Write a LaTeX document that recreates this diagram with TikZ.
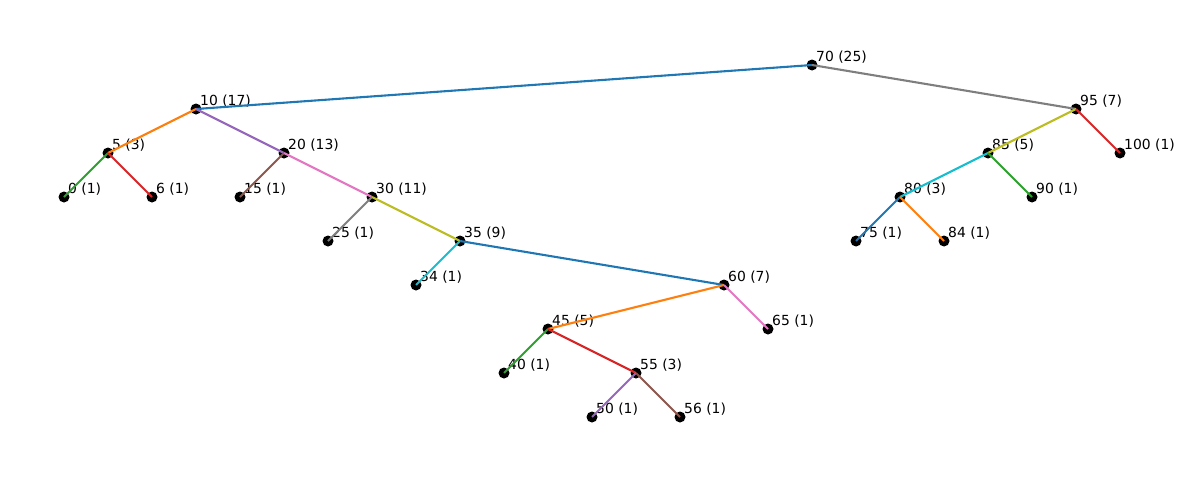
\documentclass[tikz,border=0pt]{standalone}
\usepackage{fontspec}
\setmainfont{DejaVu Sans}
\definecolor{C0}{HTML}{1F77B4}
\definecolor{C1}{HTML}{FF7F0E}
\definecolor{C2}{HTML}{2CA02C}
\definecolor{C3}{HTML}{D62728}
\definecolor{C4}{HTML}{9467BD}
\definecolor{C5}{HTML}{8C564B}
\definecolor{C6}{HTML}{E377C2}
\definecolor{C7}{HTML}{7F7F7F}
\definecolor{C8}{HTML}{BCBD22}
\definecolor{C9}{HTML}{17BECF}
\begin{document}
\begin{tikzpicture}[x=1pt,y=-1pt,
  dot/.style={circle,fill=black,minimum size=11pt,inner sep=0pt},
  lbl/.style={anchor=base west,inner sep=0pt,font=\fontsize{13.9}{16}\selectfont},
  edge/.style={line width=2.1pt}]
\path[use as bounding box] (0,0) rectangle (1184,482);
\foreach \n/\x/\y/\t in {
  70/812/65/{70 (25)}, 10/196/109/{10 (17)}, 95/1076/109/{95 (7)},
  5/108/153/{5 (3)}, 20/284/153/{20 (13)}, 85/988/153/{85 (5)}, 100/1120/153/{100 (1)},
  0/64/197/{0 (1)}, 6/152/197/{6 (1)}, 15/240/197/{15 (1)}, 30/372/197/{30 (11)},
  80/900/197/{80 (3)}, 90/1032/197/{90 (1)},
  25/328/241/{25 (1)}, 35/460/241/{35 (9)}, 75/856/241/{75 (1)}, 84/944/241/{84 (1)},
  34/416/285/{34 (1)}, 60/724/285/{60 (7)},
  45/548/329/{45 (5)}, 65/768/329/{65 (1)},
  40/504/373/{40 (1)}, 55/636/373/{55 (3)},
  50/592/417/{50 (1)}, 56/680/417/{56 (1)}}{
  \node[dot] (n\n) at (\x,\y) {};
  \node[lbl] (l\n) at (\x+4,\y-4) {\t};
}
\foreach \a/\b/\c in {70/10/C0, 10/5/C1, 5/0/C2, 5/6/C3, 10/20/C4, 20/15/C5,
  20/30/C6, 30/25/C7, 30/35/C8, 35/34/C9, 35/60/C0, 60/45/C1, 45/40/C2,
  45/55/C3, 55/50/C4, 55/56/C5, 60/65/C6, 70/95/C7, 95/85/C8, 85/80/C9,
  80/75/C0, 80/84/C1, 85/90/C2, 95/100/C3}{
  \draw[edge,\c] (n\a.center) -- (n\b.center);
}
\end{tikzpicture}
\end{document}
